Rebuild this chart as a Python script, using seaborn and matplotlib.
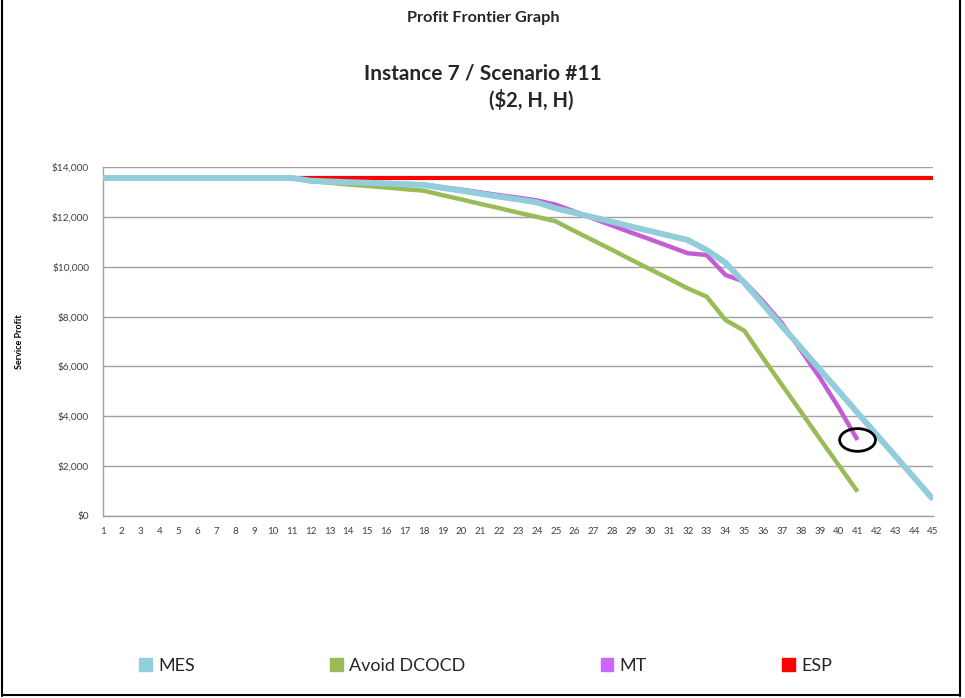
import matplotlib
matplotlib.use("Agg")
import matplotlib.pyplot as plt
from matplotlib.patches import Ellipse, Patch
from matplotlib.lines import Line2D
from matplotlib.ticker import FuncFormatter
import numpy as np
import pandas as pd
import seaborn as sns

# Category axis (number of steps)
steps = list(range(1, 46))

# Service profit per strategy
mes = [13560] * 11 + [13450, 13420, 13390, 13370, 13340, 13310, 13280,
                      13160, 13050, 12930, 12810, 12700, 12580,
                      12340, 12160, 11980, 11800, 11610, 11430, 11250, 11070,
                      10670, 10160, 9350, 8480, 7610, 6750, 5880, 5010,
                      4140, 3270, 2410, 1540, 670]
avoid_dcocd = [13560] * 11 + [13430, 13370, 13300, 13240, 13180, 13110, 13050,
                              12870, 12700, 12520, 12350, 12170, 12000, 11820,
                              11430, 11050, 10670, 10280, 9900, 9520, 9130,
                              8800, 7860, 7430, 6330, 5250, 4180, 3100, 2040, 980]
mt = [13560] * 11 + [13450, 13420, 13400, 13370, 13350, 13320, 13300,
                     13190, 13090, 12980, 12870, 12770, 12660, 12490,
                     12210, 11930, 11650, 11370, 11100, 10820, 10540,
                     10470, 9670, 9400, 8600, 7720, 6650, 5550, 4350, 3050]
esp = [13560] * 45

series_names = ["MES", "Avoid DCOCD", "MT", "ESP"]
colors = {"MES": "#92CDDC", "Avoid DCOCD": "#9BBB59", "MT": "#C45CD3", "ESP": "#FF0000"}
legend_colors = {"MES": "#92CDDC", "Avoid DCOCD": "#9BBB59", "MT": "#CC66FF", "ESP": "#FF0000"}
widths = {"MES": 4.3, "Avoid DCOCD": 3.2, "MT": 3.2, "ESP": 3.0}

frames = []
for name, vals in [("MES", mes), ("Avoid DCOCD", avoid_dcocd), ("MT", mt), ("ESP", esp)]:
    frames.append(pd.DataFrame({"step": steps[:len(vals)], "profit": vals, "series": name}))
df = pd.concat(frames, ignore_index=True)

sns.set_theme(style="white")
plt.rcParams["font.family"] = ["Lato", "DejaVu Sans"]

fig = plt.figure(figsize=(9.65, 6.98), dpi=100)
ax = fig.add_axes([103 / 965, 182 / 698, 830 / 965, 349 / 698])

# draw from the bottom layer up: ESP, Avoid DCOCD, MT, MES
for name in ["ESP", "Avoid DCOCD", "MT", "MES"]:
    sub = df[df["series"] == name]
    sns.lineplot(data=sub, x="step", y="profit", ax=ax, color=colors[name],
                 linewidth=widths[name], legend=False, zorder=3,
                 solid_capstyle="butt", solid_joinstyle="miter")

# circle the end of the MT curve
ax.add_patch(Ellipse((steps[len(mt) - 1], mt[-1]), width=1.9, height=910,
                     fill=False, edgecolor="black", linewidth=2, zorder=5))

ax.set_xlim(1, 45)
ax.set_ylim(0, 14000)
ax.set_xticks(steps)
ax.set_yticks(range(0, 14001, 2000))
ax.yaxis.set_major_formatter(FuncFormatter(lambda v, p: f"${int(v):,}"))
ax.grid(axis="y", color="#A0A0A0", linewidth=1.0)
ax.grid(axis="x", visible=False)
ax.set_axisbelow(True)
for side in ["top", "right"]:
    ax.spines[side].set_visible(False)
for side in ["left", "bottom"]:
    ax.spines[side].set_color("#A0A0A0")
    ax.spines[side].set_linewidth(1.0)
ax.tick_params(axis="y", direction="out", length=4, color="#A0A0A0", width=1,
               labelsize=7.3, labelcolor="#404040", pad=6)
ax.tick_params(axis="x", length=0, labelsize=7, labelcolor="#404040", pad=8)
ax.set_xlabel("")
ax.set_ylabel("")

fig.text(20 / 965, 1 - 342 / 698, "Service Profit", rotation=90, ha="center",
         va="center", fontsize=6.5, fontweight="bold", color="black")

fig.text(483 / 965, 1 - 18 / 698, "Profit Frontier Graph", ha="center", va="center",
         fontsize=11.7, fontweight="bold")
fig.text(483 / 965, 1 - 73 / 698, "Instance 7 / Scenario #11", ha="center", va="center",
         fontsize=15, fontweight="bold")
fig.text(531 / 965, 1 - 100 / 698, "($2, H, H)", ha="center", va="center",
         fontsize=14.5, fontweight="bold")

handles = [Patch(facecolor=legend_colors[n], edgecolor=legend_colors[n]) for n in series_names]
fig.legend(handles, series_names, loc="center left", bbox_to_anchor=(139 / 965, 1 - 666 / 698),
           ncol=4, frameon=False, fontsize=13, handlelength=0.7, handleheight=0.7,
           handletextpad=0.35, columnspacing=7.5, borderpad=0, borderaxespad=0)

# page frame
for xs, ys in [([2 / 965, 2 / 965], [0.003, 1]), ([960 / 965, 960 / 965], [0.003, 1]),
               ([2 / 965, 960 / 965], [3 / 698, 3 / 698])]:
    fig.add_artist(Line2D(xs, ys, color="black", linewidth=1.5, transform=fig.transFigure))

fig.savefig("out.png", dpi=100, facecolor="white")
